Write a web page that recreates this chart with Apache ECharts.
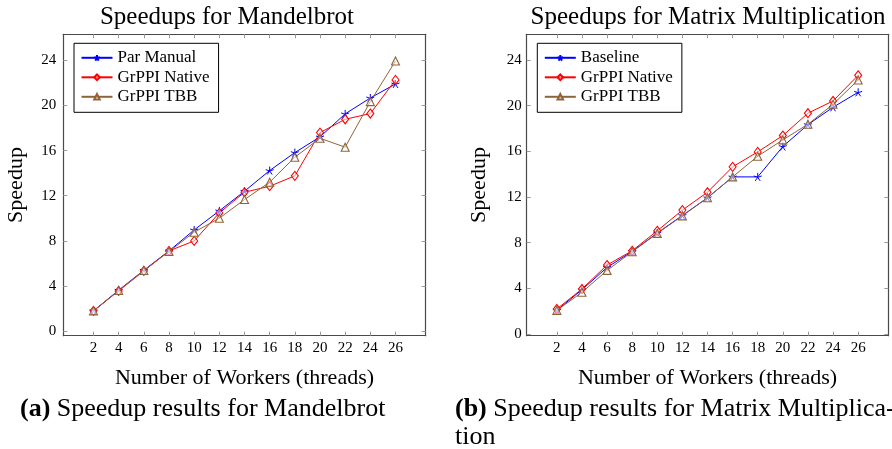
<!DOCTYPE html>
<html>
<head>
<meta charset="utf-8">
<script src="https://cdn.jsdelivr.net/npm/echarts@6/dist/echarts.min.js"></script>
<style>
html,body{margin:0;padding:0;background:#fff;}
#c{width:892px;height:449px;}
</style>
</head>
<body>
<div id="c"></div>
<script>
// ---- data ----
const workers = [2, 4, 6, 8, 10, 12, 14, 16, 18, 20, 22, 24, 26];
const yTicks = [0, 4, 8, 12, 16, 20, 24];

const mandelTitle = 'Speedups for Mandelbrot';
const matmulTitle = 'Speedups for Matrix Multiplication';

const mandelNames = ['Par Manual', 'GrPPI Native', 'GrPPI TBB'];
const mandelParManual = [1.80, 3.63, 5.40, 7.11, 8.97, 10.66, 12.40, 14.23, 15.82, 17.21, 19.25, 20.66, 21.90];
const mandelNative    = [1.80, 3.57, 5.34, 7.11, 8.00, 10.48, 12.31, 12.84, 13.76, 17.59, 18.77, 19.28, 22.26];
const mandelTBB       = [1.80, 3.60, 5.37, 7.06, 8.77, 10.01, 11.66, 13.20, 15.41, 17.09, 16.30, 20.34, 23.94];

const matmulNames = ['Baseline', 'GrPPI Native', 'GrPPI TBB'];
const matmulBaseline = [2.07, 3.88, 5.83, 7.23, 8.84, 10.38, 11.93, 13.76, 13.76, 16.42, 18.34, 19.86, 21.17];
const matmulNative   = [2.19, 3.94, 6.04, 7.29, 9.04, 10.85, 12.42, 14.64, 15.95, 17.38, 19.34, 20.41, 22.66];
const matmulTBB      = [2.07, 3.65, 5.57, 7.20, 8.81, 10.35, 11.93, 13.76, 15.57, 17.00, 18.37, 20.12, 22.25];

const xLabel = 'Number of Workers (threads)';
const yLabel = 'Speedup';
const captionA = ['(a)', ' Speedup results for Mandelbrot'];
const captionB = ['(b)', ' Speedup results for Matrix Multiplica-', 'tion'];

// ---- styling ----
const FONT = 'Liberation Serif';
const BLUE = '#0000ff', RED = '#ff0000', BROWN = '#8f6438';
const STAR = 'path://M0 0L0 -1M0 0L0.951 -0.309M0 0L0.588 0.809M0 0L-0.588 0.809M0 0L-0.951 -0.309';
const FRAME = '#4a4a4a';

function pairs(vals) { return workers.map((w, i) => [w, vals[i]]); }

function xAxes(gi) {
  const base = {
    type: 'value', gridIndex: gi, min: -0.4, max: 28.4,
    splitLine: {show: false},
    axisLine: {show: true, onZero: false, lineStyle: {color: FRAME, width: 1.2}},
    axisTick: {show: true, inside: true, length: 4, customValues: workers, lineStyle: {color: '#999', width: 1}}
  };
  return [
    Object.assign({}, base, {
      position: 'bottom',
      name: xLabel, nameLocation: 'middle', nameGap: 32,
      nameTextStyle: {fontFamily: FONT, fontSize: 22, color: '#000'},
      axisLabel: {show: true, customValues: workers, margin: 5, fontFamily: FONT, fontSize: 15, color: '#000'}
    }),
    Object.assign({}, base, {position: 'top', axisLabel: {show: false}})
  ];
}

function yAxes(gi, min, max, margin) {
  const base = {
    type: 'value', gridIndex: gi, min: min, max: max,
    splitLine: {show: false},
    axisLine: {show: true, onZero: false, lineStyle: {color: FRAME, width: 1.2}},
    axisTick: {show: true, inside: true, length: 4, customValues: yTicks, lineStyle: {color: '#999', width: 1}}
  };
  return [
    Object.assign({}, base, {
      position: 'left',
      name: yLabel, nameLocation: 'middle', nameGap: 36,
      nameTextStyle: {fontFamily: FONT, fontSize: 22, color: '#000'},
      axisLabel: {show: true, customValues: yTicks, margin: margin, fontFamily: FONT, fontSize: 15, color: '#000'}
    }),
    Object.assign({}, base, {position: 'right', axisLabel: {show: false}})
  ];
}

function series(name, vals, gi, kind) {
  const s = {
    type: 'line', name: name, data: pairs(vals),
    xAxisIndex: gi * 2, yAxisIndex: gi * 2,
    showSymbol: true, animation: false,
    lineStyle: {width: 1}
  };
  if (kind === 'star') {
    s.symbol = STAR; s.symbolSize = 8;
    s.color = BLUE;
    s.lineStyle.color = BLUE;
    s.itemStyle = {color: BLUE, borderColor: BLUE, borderWidth: 1};
  } else if (kind === 'diamond') {
    s.symbol = 'diamond'; s.symbolSize = [7, 9];
    s.color = RED;
    s.lineStyle.color = RED;
    s.itemStyle = {color: 'rgba(255,255,255,0.5)', borderColor: RED, borderWidth: 1.1};
  } else {
    s.symbol = 'triangle'; s.symbolSize = 8;
    s.color = BROWN;
    s.lineStyle.color = BROWN;
    s.itemStyle = {color: 'rgba(255,255,255,0.5)', borderColor: BROWN, borderWidth: 1.1};
  }
  return s;
}

function legend(left, names) {
  return {
    data: names, orient: 'vertical', left: left, top: 43.3,
    padding: [6, 9, 7, 6.5], itemGap: 2.5, itemWidth: 31, itemHeight: 7,
    backgroundColor: '#fff', borderColor: '#000', borderWidth: 1, borderRadius: 0,
    selectedMode: false,
    textStyle: {fontFamily: FONT, fontSize: 17, color: '#000', lineHeight: 17}
  };
}

const chart = echarts.init(document.getElementById('c'), null, {renderer: 'canvas'});
chart.setOption({
  animation: false,
  backgroundColor: '#fff',
  title: [
    {text: mandelTitle, left: 222, top: 0, textAlign: 'center',
     textStyle: {fontFamily: FONT, fontSize: 25, fontWeight: 'normal', color: '#000'}},
    {text: matmulTitle, left: 703, top: 0, textAlign: 'center',
     textStyle: {fontFamily: FONT, fontSize: 25, fontWeight: 'normal', color: '#000'}}
  ],
  grid: [
    {left: 63.3, top: 34.3, width: 362.4, height: 301.4, outerBoundsMode: 'none', containLabel: false},
    {left: 526.7, top: 34.3, width: 361.6, height: 301.4, outerBoundsMode: 'none', containLabel: false}
  ],
  xAxis: xAxes(0).concat(xAxes(1)),
  yAxis: yAxes(0, -0.4, 26.3, 7).concat(yAxes(1, -0.15, 26.25, 5)),
  legend: [legend(74, mandelNames), legend(537.3, matmulNames)],
  series: [
    series(mandelNames[0], mandelParManual, 0, 'star'),
    series(mandelNames[1], mandelNative, 0, 'diamond'),
    series(mandelNames[2], mandelTBB, 0, 'triangle'),
    series(matmulNames[0], matmulBaseline, 1, 'star'),
    series(matmulNames[1], matmulNative, 1, 'diamond'),
    series(matmulNames[2], matmulTBB, 1, 'triangle')
  ],
  graphic: [
    {type: 'text', left: 20, top: 396,
     style: {text: '{b|' + captionA[0] + '}' + captionA[1], font: '26px "' + FONT + '"', fill: '#000',
       rich: {b: {fontFamily: FONT, fontSize: 26, fontWeight: 'bold', fill: '#000'}}}},
    {type: 'text', left: 455, top: 396,
     style: {text: '{b|' + captionB[0] + '}' + captionB[1], font: '26px "' + FONT + '"', fill: '#000',
       rich: {b: {fontFamily: FONT, fontSize: 26, fontWeight: 'bold', fill: '#000'}}}},
    {type: 'text', left: 455, top: 424,
     style: {text: captionB[2], font: '26px "' + FONT + '"', fill: '#000'}}
  ]
});
</script>
</body>
</html>
